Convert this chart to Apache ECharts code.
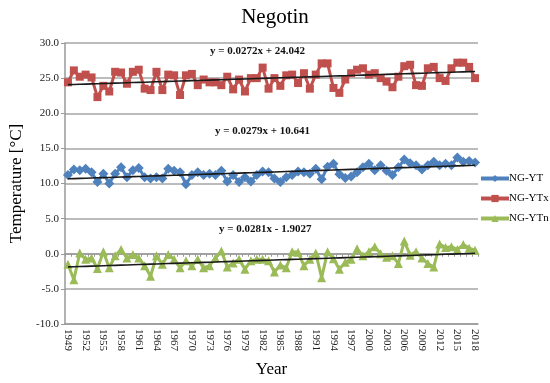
<!DOCTYPE html>
<html>
<head>
<meta charset="utf-8">
<script src="https://cdn.jsdelivr.net/npm/echarts@6/dist/echarts.min.js"></script>
<style>
  html, body { margin: 0; padding: 0; background: #fff; }
  #chart { width: 550px; height: 383px; }
</style>
</head>
<body>
<div id="chart"></div>
<script>
// Annual temperatures at Negotin, 1949-2018
const firstYear = 1949;
const lastYear = 2018;

// Mean annual temperature (NG-YT)
const ngYT = [
  11.2, 12.0, 11.9, 12.1, 11.6, 10.2, 11.4, 10.0, 11.4, 12.3,
  10.9, 11.9, 12.2, 10.9, 10.7, 10.9, 10.7, 12.1, 11.8, 11.6,
  9.9, 11.2, 11.6, 11.2, 11.4, 11.2, 11.8, 10.3, 11.2, 10.2,
  10.9, 10.3, 11.2, 11.7, 11.6, 10.7, 10.2, 10.9, 11.2, 11.7,
  11.6, 11.4, 12.1, 10.6, 12.4, 12.8, 11.3, 10.8, 11.0, 11.6,
  12.3, 12.8, 11.9, 12.6, 11.8, 11.2, 12.3, 13.4, 12.9, 12.6,
  12.0, 12.6, 13.1, 12.6, 12.8, 12.6, 13.7, 13.1, 13.2, 13.0
];

// Mean annual maximum temperature (NG-YTx)
const ngYTx = [
  24.4, 26.1, 25.2, 25.5, 25.1, 22.3, 23.9, 23.1, 25.9, 25.8,
  24.2, 25.9, 26.2, 23.5, 23.3, 25.9, 23.3, 25.5, 25.4, 22.6,
  25.4, 25.6, 24.0, 24.8, 24.4, 24.4, 24.0, 25.2, 23.4, 24.8,
  23.1, 25.0, 25.0, 26.5, 23.5, 25.0, 23.9, 25.4, 25.5, 24.3,
  25.7, 23.5, 25.5, 27.1, 27.1, 23.6, 22.9, 24.8, 25.7, 26.2,
  26.4, 25.5, 25.7, 25.0, 24.5, 23.7, 25.2, 26.7, 26.9, 24.0,
  23.9, 26.4, 26.6, 25.0, 24.6, 26.4, 27.2, 27.2, 26.6, 25.0
];

// Mean annual minimum temperature (NG-YTn)
const ngYTn = [
  -1.5, -3.7, 0.1, -0.8, -0.6, -2.1, 0.3, -2.0, -0.3, 0.6,
  -0.6, -0.1, -0.6, -1.7, -3.2, -0.3, -1.5, -0.1, -0.8, -2.0,
  -1.0, -1.7, -0.8, -2.0, -1.7, -0.6, 0.4, -1.9, -1.3, -0.8,
  -2.2, -1.0, -0.8, -0.8, -1.0, -2.6, -1.6, -2.0, 0.3, 0.2,
  -1.7, -0.8, 0.1, -3.4, 0.3, -0.7, -2.2, -1.2, -0.8, 0.7,
  -0.3, 0.3, 1.0, 0.0, -0.5, -0.3, -1.4, 1.8, -0.2, 0.3,
  -0.6, -1.4, -1.9, 1.4, 0.9, 1.0, 0.6, 1.3, 0.8, 0.5
];

// Linear trend coefficients (x = 1 for the first year)
const trendSlopes = [0.0272, 0.0279, 0.0281];
const trendIntercepts = [24.042, 10.641, -1.9027];
const trendLabels = ['y = 0.0272x + 24.042', 'y = 0.0279x + 10.641', 'y = 0.0281x - 1.9027'];

// Value axis ticks
const yMin = -10, yMax = 30, yStep = 5;

const years = [];
for (let y = firstYear; y <= lastYear; y++) years.push(String(y));

function trendLine(k) {
  return years.map((_, i) => +(trendSlopes[k] * (i + 1) + trendIntercepts[k]).toFixed(4));
}

const serif = '"Liberation Serif", "Times New Roman", serif';
const colors = { yt: '#4F81BD', ytx: '#C0504D', ytn: '#9BBB59' };

const chart = echarts.init(document.getElementById('chart'), null, { renderer: 'canvas' });

function dataSeries(name, data, color, symbol, size) {
  return {
    name, type: 'line', data,
    symbol, symbolSize: size, showSymbol: true, showAllSymbol: true,
    itemStyle: { color },
    lineStyle: { color, width: 3 },
    z: 3, animation: false
  };
}
function trendSeries(k) {
  return {
    name: 'trend' + k, type: 'line', data: trendLine(k),
    symbol: 'none', lineStyle: { color: '#1a1a1a', width: 1.6 },
    z: 5, animation: false, silent: true
  };
}

chart.setOption({
  backgroundColor: '#fff',
  animation: false,
  textStyle: { fontFamily: serif },
  title: {
    text: 'Negotin', left: 'center', top: 2,
    textStyle: { fontFamily: serif, fontSize: 21, fontWeight: 'normal', color: '#000' }
  },
  grid: { left: 61, right: 72, top: 43, bottom: 56 },
  legend: {
    data: ['NG-YT', 'NG-YTx', 'NG-YTn'],
    orient: 'vertical', left: 479, top: 173, padding: 0,
    itemWidth: 28, itemHeight: 9, itemGap: 9,
    lineStyle: { width: 4 },
    textStyle: { fontFamily: serif, fontSize: 11, color: '#000', padding: [0, 0, 0, -5] }
  },
  xAxis: [
    {
      type: 'category', data: years, position: 'bottom',
      boundaryGap: true,
      axisLine: { onZero: false, lineStyle: { color: '#999', width: 1.5 } },
      axisTick: { show: false },
      axisLabel: {
        interval: 2, rotate: -90, color: '#222', fontFamily: serif, fontSize: 11, margin: 5
      },
      name: 'Year', nameLocation: 'middle', nameGap: 37,
      nameTextStyle: { fontFamily: serif, fontSize: 17, color: '#000' }
    },
    {
      type: 'category', data: years, position: 'bottom',
      boundaryGap: true,
      axisLine: { onZero: true, lineStyle: { color: '#999', width: 1.5 } },
      axisTick: { show: true, interval: 0, length: 3, lineStyle: { color: '#999', width: 1 } },
      axisLabel: { show: false },
      splitLine: { show: false }
    }
  ],
  yAxis: {
    type: 'value', min: yMin, max: yMax, interval: yStep,
    axisLine: { show: true, lineStyle: { color: '#999', width: 1.5 } },
    axisTick: { show: true, length: 4, lineStyle: { color: '#999' } },
    splitLine: { lineStyle: { color: '#a6a6a6', width: 1.5 } },
    axisLabel: {
      formatter: v => v.toFixed(1), color: '#222', fontFamily: serif, fontSize: 11, margin: 6
    },
    name: 'Temperature [°C]', nameLocation: 'middle', nameGap: 40, nameRotate: 90,
    nameTextStyle: { fontFamily: serif, fontSize: 17, color: '#000' }
  },
  graphic: [
    { type: 'text', left: 210, top: 46, style: { text: trendLabels[0], font: 'bold 11px ' + serif, fill: '#111' } },
    { type: 'text', left: 215, top: 126, style: { text: trendLabels[1], font: 'bold 11px ' + serif, fill: '#111' } },
    { type: 'text', left: 219, top: 224, style: { text: trendLabels[2], font: 'bold 11px ' + serif, fill: '#111' } }
  ],
  series: [
    dataSeries('NG-YT', ngYT, colors.yt, 'diamond', 10),
    dataSeries('NG-YTx', ngYTx, colors.ytx, 'rect', 8),
    dataSeries('NG-YTn', ngYTn, colors.ytn, 'triangle', 9),
    trendSeries(0), trendSeries(1), trendSeries(2)
  ]
});
</script>
</body>
</html>
